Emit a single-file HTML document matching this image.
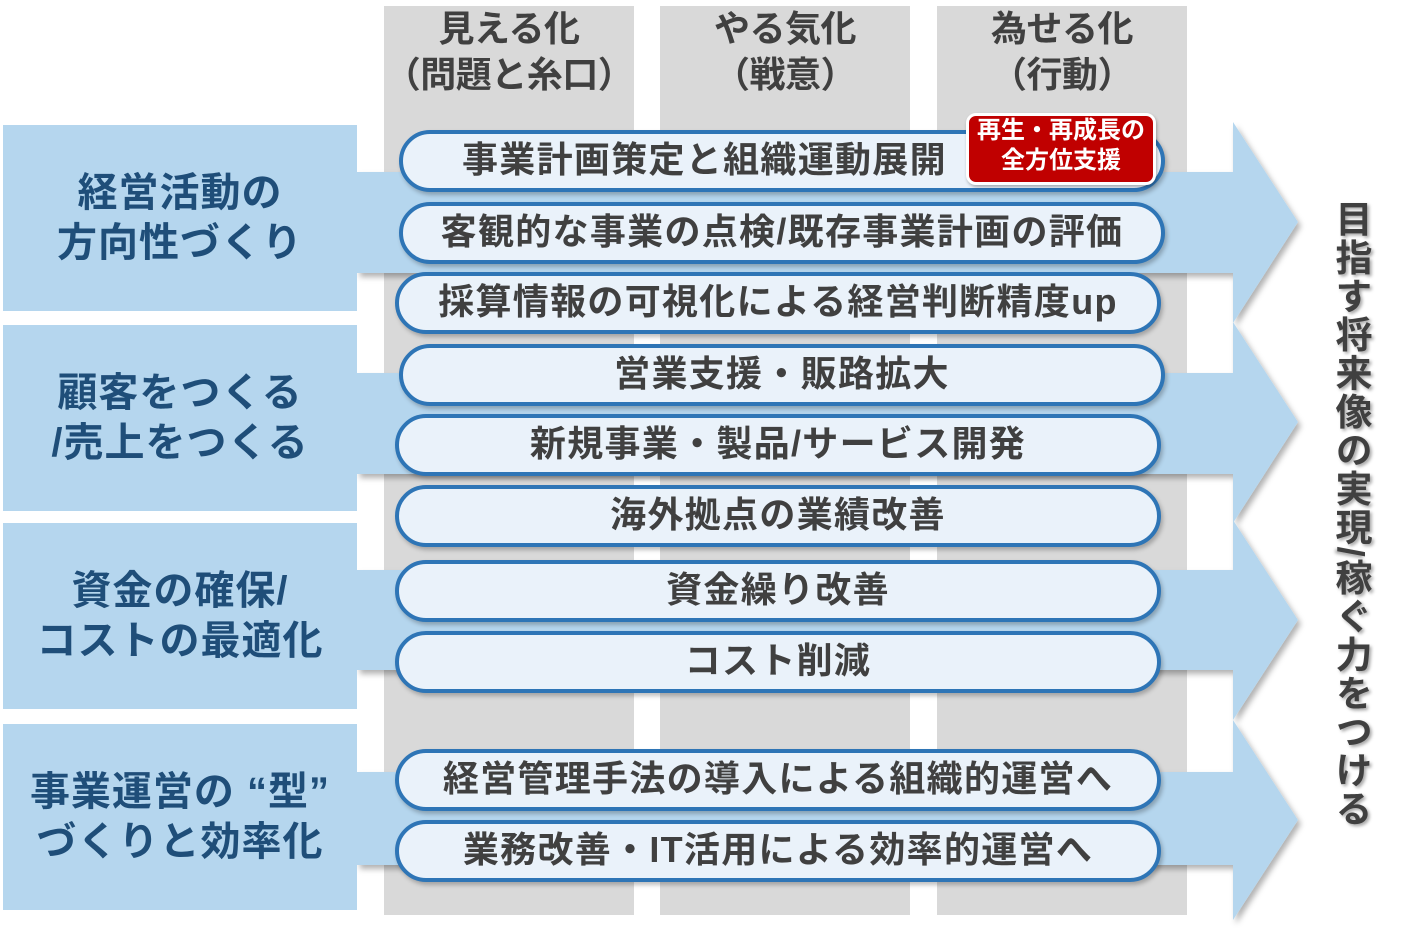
<!DOCTYPE html>
<html><head><meta charset="utf-8"><style>
body{margin:0;width:1425px;height:929px;background:#fff;position:relative;overflow:hidden;font-family:"Liberation Sans","Noto Sans CJK JP",sans-serif;font-weight:bold}
.col{position:absolute;top:6px;width:250px;height:909px;background:#d9d9d9}
.hd{position:absolute;top:6px;width:250px;text-align:center;color:#404040;font-size:36px;line-height:46px;letter-spacing:-0.5px}
.lb{position:absolute;left:3px;width:354px;height:186px;background:#b5d6ee;color:#1f4e79;font-size:40px;line-height:50px;display:flex;align-items:center;justify-content:center;text-align:center;letter-spacing:1px}
.pill{position:absolute;left:397px;width:758px;height:54px;border:4px solid #2e75b6;border-radius:32px;background:#eaf2fa;color:#404040;font-size:36px;line-height:52px;text-align:center;box-shadow:2px 3px 4px rgba(0,0,0,.25);white-space:nowrap;letter-spacing:1.3px}
.badge{position:absolute;left:966px;top:113px;width:184px;height:66px;background:#c00000;border:3px solid #fff;border-radius:10px;color:#fff;font-size:24px;line-height:30px;text-align:center;box-shadow:1px 2px 3px rgba(0,0,0,.3);white-space:nowrap}
.vt{position:absolute;left:1323px;top:200px;writing-mode:vertical-rl;font-size:37px;color:#404040;letter-spacing:1.5px;text-shadow:2px 2px 3px rgba(0,0,0,.35)}
</style></head><body>
<div class="col" style="left:384px"></div>
<div class="col" style="left:660px"></div>
<div class="col" style="left:937px"></div>
<div class="hd" style="left:384px">見える化<br>（問題と糸口）</div>
<div class="hd" style="left:660px">やる気化<br>（戦意）</div>
<div class="hd" style="left:937px">為せる化<br>（行動）</div>
<svg width="1425" height="929" style="position:absolute;left:0;top:0">
<defs><filter id="s"><feDropShadow dx="3" dy="4" stdDeviation="3" flood-opacity="0.3"/></filter></defs>
<g fill="#b5d6ee" filter="url(#s)">
<polygon points="357,172 1233,172 1233,122 1298,222 1233,323 1233,273 357,273"/>
<polygon points="357,373 1233,373 1233,322 1298,422 1233,523 1233,474 357,474"/>
<polygon points="357,570 1233,570 1233,520 1298,620 1233,720 1233,670 357,670"/>
<polygon points="357,772 1233,772 1233,720 1298,820 1233,920 1233,865 357,865"/>
</g></svg>
<div class="lb" style="top:125px">経営活動の<br>方向性づくり</div>
<div class="lb" style="top:325px">顧客をつくる<br>/売上をつくる</div>
<div class="lb" style="top:523px">資金の確保/<br>コストの最適化</div>
<div class="lb" style="top:724px">事業運営の “型”<br>づくりと効率化</div>
<div class="pill" style="top:130px;left:399px;text-align:left;padding-left:59px;width:699px">事業計画策定と組織運動展開</div>
<div class="pill" style="top:202px;left:399px">客観的な事業の点検/既存事業計画の評価</div>
<div class="pill" style="top:272px;left:395px">採算情報の可視化による経営判断精度up</div>
<div class="pill" style="top:344px;left:399px">営業支援・販路拡大</div>
<div class="pill" style="top:414px;left:395px">新規事業・製品/サービス開発</div>
<div class="pill" style="top:485px;left:395px">海外拠点の業績改善</div>
<div class="pill" style="top:560px;left:395px">資金繰り改善</div>
<div class="pill" style="top:631px;left:395px">コスト削減</div>
<div class="pill" style="top:749px;left:395px">経営管理手法の導入による組織的運営へ</div>
<div class="pill" style="top:820px;left:395px">業務改善・IT活用による効率的運営へ</div>
<div class="badge">再生・再成長の<br>全方位支援</div>
<div class="vt">目指す将来像の実現/稼ぐ力をつける</div>
</body></html>
